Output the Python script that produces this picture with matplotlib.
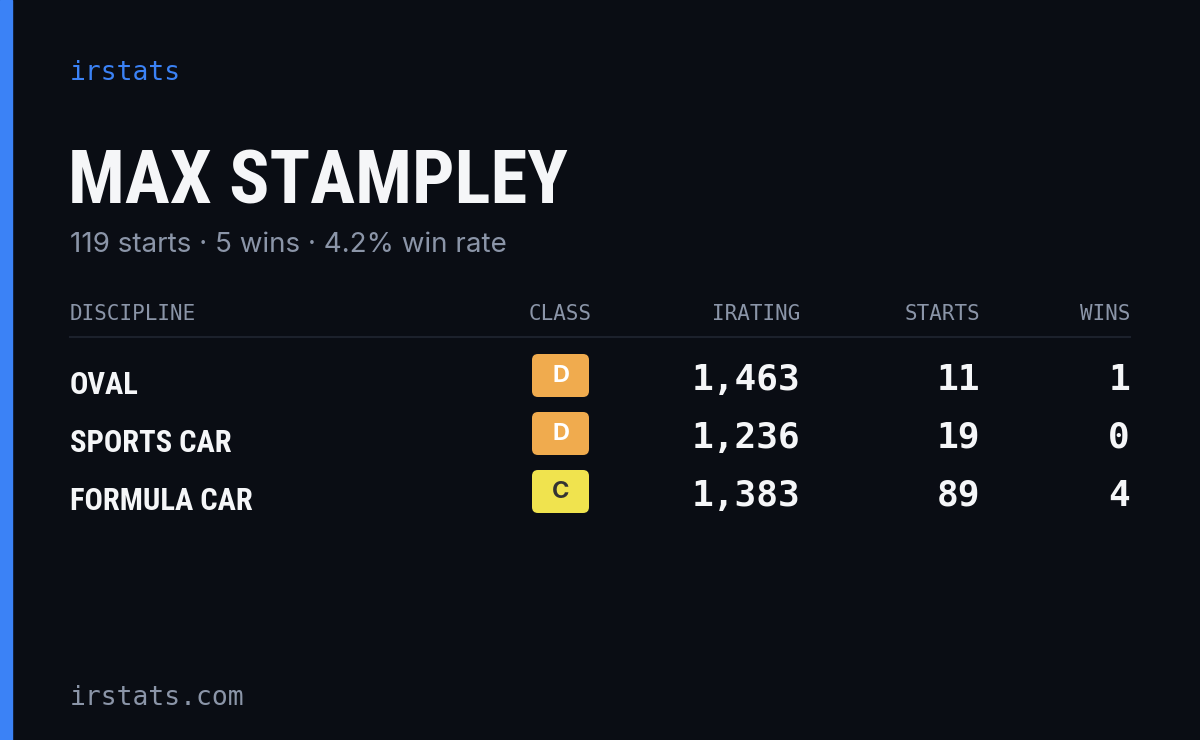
import matplotlib
matplotlib.use("Agg")
import matplotlib.pyplot as plt
from matplotlib.patches import FancyBboxPatch, Rectangle
from matplotlib import font_manager as fm

name = "MAX STAMPLEY"
summary = "119 starts · 5 wins · 4.2% win rate"
headers = ["DISCIPLINE", "CLASS", "IRATING", "STARTS", "WINS"]
disciplines = ["OVAL", "SPORTS CAR", "FORMULA CAR"]
classes = ["D", "D", "C"]
iratings = [1463, 1236, 1383]
starts = [11, 19, 89]
wins = [1, 0, 4]

names = {f.name for f in fm.fontManager.ttflist}
cond = None
for cand in ["Liberation Sans Narrow", "DejaVu Sans Condensed", "Roboto Condensed", "Open Sans Condensed"]:
    if cand in names:
        cond = cand
        break

BG = "#0a0d14"
fig = plt.figure(figsize=(12, 7.4), dpi=100, facecolor=BG)
ax = fig.add_axes([0, 0, 1, 1])
ax.set_xlim(0, 1200); ax.set_ylim(740, 0); ax.axis("off")
ax.set_facecolor(BG)
ax.add_patch(Rectangle((0, 0), 12, 740, color="#3b82f6"))

mono = ["DejaVu Sans Mono"]
narrow = [cond or "DejaVu Sans", "DejaVu Sans"]
ax.text(70, 73, "irstats", color="#3b82f6", fontsize=19, family=mono, va="center")
ax.text(68, 184, name, color="#f5f6f8", fontsize=54, family=narrow, weight="bold", va="center",
        stretch="condensed")
ax.text(70, 245, summary, color="#8b95a8", fontsize=20, family=["Inter", "DejaVu Sans"], va="center")

hx = [70, 592, 800, 980, 1130]
ha = ["left", "right", "right", "right", "right"]
for x, h, a in zip(hx, headers, ha):
    ax.text(x, 314, h, color="#8b95a8", fontsize=15, family=mono, ha=a, va="center")
ax.plot([70, 1130], [337, 337], color="#1c212c", lw=1.5)

badge_col = {"D": ("#f0ab4e", "white"), "C": ("#f0e34e", "#333333")}
for i, (d, c, r, s, w) in enumerate(zip(disciplines, classes, iratings, starts, wins)):
    y = 378 + i * 58
    ax.text(70, y + 7, d, color="#f5f6f8", fontsize=22, family=narrow, weight="bold", va="center",
            stretch="condensed")
    fc, tc = badge_col[c]
    ax.add_patch(FancyBboxPatch((532 + 6, y - 24 + 6), 57 - 12, 43 - 12,
                                boxstyle="round,pad=6", fc=fc, ec="none"))
    ax.text(560.5, y - 2, c, color=tc, fontsize=17, family=["Inter", "DejaVu Sans"], weight="bold",
            ha="center", va="center")
    for x, v in zip(hx[2:], [f"{r:,}", str(s), str(w)]):
        ax.text(x, y + 2, v, color="#f5f6f8", fontsize=26, family=mono, weight="bold", ha="right", va="center")

ax.text(70, 698, "irstats.com", color="#8b95a8", fontsize=19, family=mono, va="center")
fig.savefig("out.png", dpi=100, facecolor=BG)
